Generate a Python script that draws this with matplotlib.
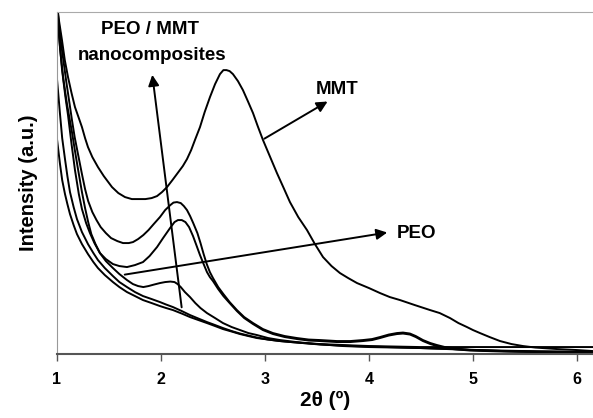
import matplotlib.pyplot as plt

plt.rcParams['font.family'] = ['Liberation Sans', 'DejaVu Sans']

# 2theta (deg) / intensity (a.u.)
mmt_x = [1.00, 1.02, 1.048, 1.075, 1.106, 1.14, 1.173, 1.21, 1.24, 1.27, 1.298, 1.34,
         1.394, 1.45, 1.529, 1.59, 1.654, 1.72, 1.779, 1.85, 1.91, 1.962, 2.01, 2.058,
         2.11, 2.16, 2.21, 2.25, 2.29, 2.33, 2.375, 2.42, 2.471, 2.52, 2.567, 2.60,
         2.63, 2.66, 2.692, 2.74, 2.788, 2.835, 2.885, 2.93, 2.981, 3.05, 3.115, 3.18,
         3.24, 3.32, 3.404, 3.48, 3.558, 3.64, 3.721, 3.80, 3.885, 4.00, 4.106, 4.20,
         4.298, 4.44, 4.587, 4.68, 4.779, 4.86, 4.942, 5.00, 5.067, 5.16, 5.26, 5.37,
         5.481, 5.60, 5.808, 6.00, 6.154]
mmt_y = [350, 333, 314, 294, 277, 261, 247, 236, 227, 216, 207, 197,
         187, 178, 167, 161, 157, 155, 155, 155, 156, 158, 162, 167,
         174, 181, 188, 195, 204, 215, 227, 242, 257, 270, 280, 284,
         284, 283, 280, 273, 264, 253, 241, 228, 214, 197, 181, 166,
         152, 137, 124, 110, 97, 88, 81, 76, 71, 66, 61, 57,
         54, 49, 44, 41, 36, 31, 27, 24, 21, 17, 13, 10,
         8, 6.5, 5, 4, 3]

nc1_x = [1.00, 1.03, 1.06, 1.09, 1.12, 1.144, 1.17, 1.202, 1.24, 1.27, 1.30, 1.34,
         1.38, 1.42, 1.47, 1.52, 1.58, 1.635, 1.69, 1.731, 1.78, 1.83, 1.88, 1.93,
         1.99, 2.04, 2.09, 2.12, 2.154, 2.19, 2.22, 2.25, 2.28, 2.31, 2.35, 2.38,
         2.41, 2.44, 2.47, 2.50, 2.55, 2.60, 2.66, 2.73, 2.80, 2.885, 2.98, 3.077,
         3.19, 3.308, 3.42, 3.529, 3.692, 3.82, 3.942, 4.03, 4.106, 4.19, 4.269, 4.327,
         4.394, 4.45, 4.519, 4.59, 4.654, 4.73, 4.808, 4.971, 5.13, 5.288, 5.644, 6.154]
nc1_y = [350, 318, 295, 272, 251, 234, 217, 200, 180, 165, 153, 142,
         134, 127, 121, 116, 113, 111, 111, 112, 115, 119, 124, 130,
         137, 144, 149, 151.5, 152, 151, 148, 144, 138, 131, 121, 111,
         100, 90, 82, 76, 67, 60, 52, 44, 37, 31, 25, 21,
         18, 16, 14.5, 14, 13, 13, 14, 15, 17, 19.5, 21, 21.5,
         20.5, 18, 14, 11, 9, 7, 6, 4, 3.5, 3, 2.5, 2]

nc2_x = [1.00, 1.03, 1.06, 1.096, 1.12, 1.144, 1.17, 1.202, 1.24, 1.27, 1.30, 1.33,
         1.37, 1.413, 1.47, 1.538, 1.60, 1.673, 1.75, 1.827, 1.89, 1.962, 2.02, 2.087,
         2.13, 2.163, 2.20, 2.235, 2.27, 2.308, 2.34, 2.375, 2.41, 2.442, 2.47, 2.50,
         2.55, 2.60, 2.66, 2.73, 2.80, 2.885, 2.98, 3.077, 3.19, 3.308, 3.42, 3.529,
         3.692, 3.82, 3.942, 4.03, 4.106, 4.19, 4.269, 4.327, 4.394, 4.45, 4.519, 4.59,
         4.654, 4.73, 4.808, 4.971, 5.13, 5.288, 5.644, 6.154]
nc2_y = [345, 305, 276, 250, 236, 222, 205, 185, 162, 146, 132, 120,
         110, 101, 95, 90, 88, 87, 89, 92, 98, 107, 116, 126,
         132, 134, 134, 132, 127, 118, 109, 99, 90, 82, 77, 73,
         65, 58, 51, 43, 36, 30, 24, 20, 17, 15, 13.5, 13,
         12, 12, 13, 14, 16, 18.5, 20, 20.5, 19.5, 17, 13, 10,
         8, 6, 5, 3.5, 3, 2.5, 2, 1.5]

nc3_x = [1.00, 1.02, 1.048, 1.08, 1.106, 1.14, 1.173, 1.21, 1.24, 1.28, 1.317, 1.36,
         1.413, 1.47, 1.538, 1.60, 1.673, 1.73, 1.78, 1.83, 1.88, 1.933, 1.99, 2.04,
         2.09, 2.13, 2.16, 2.19, 2.23, 2.279, 2.33, 2.38, 2.442, 2.52, 2.596, 2.68,
         2.76, 2.84, 2.923, 3.03, 3.144, 3.30, 3.50, 3.75, 4.00, 4.25, 4.50, 4.75,
         5.00, 5.50, 6.154]
nc3_y = [345, 318, 285, 258, 239, 210, 184, 160, 145, 131, 121, 111,
         101, 93, 86, 80, 74, 70, 68, 67, 68, 69.5, 71, 72,
         72.5, 72, 70, 67, 62, 57, 51, 46, 41, 36, 31, 27,
         24, 21, 19, 16, 14, 12, 10, 8, 7, 6.5, 6, 5,
         4, 3, 2]

nc4_x = [1.00, 1.015, 1.029, 1.05, 1.077, 1.10, 1.125, 1.16, 1.192, 1.24, 1.298, 1.35,
         1.394, 1.46, 1.538, 1.60, 1.673, 1.75, 1.827, 1.91, 1.99, 2.05, 2.115, 2.20,
         2.279, 2.36, 2.442, 2.52, 2.596, 2.68, 2.76, 2.84, 2.923, 3.03, 3.144, 3.25,
         3.365, 3.53, 3.692, 3.85, 4.01, 4.25, 4.49, 4.65, 4.808, 5.05, 5.288, 5.45,
         5.644, 6.154]
nc4_y = [275, 257, 240, 216, 195, 178, 162, 147, 135, 122, 110, 101,
         94, 86, 78, 72, 67, 62, 58, 55, 52, 49.5, 47, 43,
         39, 35.5, 32, 29, 26, 23, 20.5, 18.5, 16.5, 14.5, 13, 12,
         11, 9.5, 8.7, 8, 7.5, 6.8, 6, 5.5, 5, 4, 3, 2.5,
         2, 2]

peo_x = [1.00, 1.015, 1.029, 1.05, 1.077, 1.10, 1.125, 1.16, 1.192, 1.24, 1.298, 1.35,
         1.394, 1.46, 1.538, 1.60, 1.673, 1.75, 1.827, 1.91, 1.99, 2.05, 2.115, 2.20,
         2.279, 2.36, 2.442, 2.52, 2.596, 2.68, 2.76, 2.84, 2.923, 3.03, 3.144, 3.25,
         3.365, 3.53, 3.692, 3.85, 4.01, 4.25, 4.49, 4.808, 5.288, 5.644, 6.154]
peo_y = [215, 202, 190, 174, 160, 150, 140, 129, 120, 110, 100, 92,
         86, 79, 72, 67, 62, 58, 54, 51, 48, 46, 44, 40.5,
         37, 34, 31, 28, 25, 22.5, 20, 18, 16, 14.5, 13, 12,
         11, 10, 9.3, 8.6, 8, 7.5, 7, 7, 7, 7, 7]

fig = plt.figure(figsize=(5.93, 4.18), dpi=100)
ax = fig.add_axes([0.0961, 0.153, 0.9039, 0.818])

for xs, ys in [(mmt_x, mmt_y), (nc1_x, nc1_y), (nc2_x, nc2_y), (nc3_x, nc3_y),
               (nc4_x, nc4_y), (peo_x, peo_y)]:
    ax.plot(xs, ys, color='black', lw=1.4, solid_joinstyle='round')

arrow = dict(arrowstyle='-|>', color='black', lw=1.4, mutation_scale=16)
ax.annotate('', xy=(1.913, 282), xytext=(2.202, 44), arrowprops=arrow)
ax.annotate('', xy=(3.625, 254), xytext=(2.971, 214), arrowprops=arrow)
ax.annotate('', xy=(4.202, 122), xytext=(1.625, 79), arrowprops=arrow)

bold = dict(fontsize=13.5, fontweight='bold', ha='center', va='center')
ax.text(1.894, 325, 'PEO / MMT', **bold)
ax.text(1.913, 299, 'nanocomposites', **bold)
ax.text(3.69, 265, 'MMT', **bold)
ax.text(4.46, 121, 'PEO', **bold)

ax.set_xlim(1, 6.154)
ax.set_ylim(0, 342)
ax.set_xticks([1, 2, 3, 4, 5, 6])
ax.set_yticks([])
ax.tick_params(axis='x', direction='out', length=5, width=1, color='#555555', pad=8,
               labelsize=11.5)
for lab in ax.get_xticklabels():
    lab.set_fontweight('bold')
ax.set_xlabel('2θ (º)', fontsize=15, fontweight='bold', labelpad=3)
ax.set_ylabel('Intensity (a.u.)', fontsize=14.5, fontweight='bold', labelpad=14)

ax.spines['right'].set_visible(False)
ax.spines['left'].set_color('#999999')
ax.spines['top'].set_color('#aaaaaa')
ax.spines['bottom'].set_color('#555555')
ax.spines['bottom'].set_linewidth(1.5)

fig.savefig('out.png', dpi=100)
